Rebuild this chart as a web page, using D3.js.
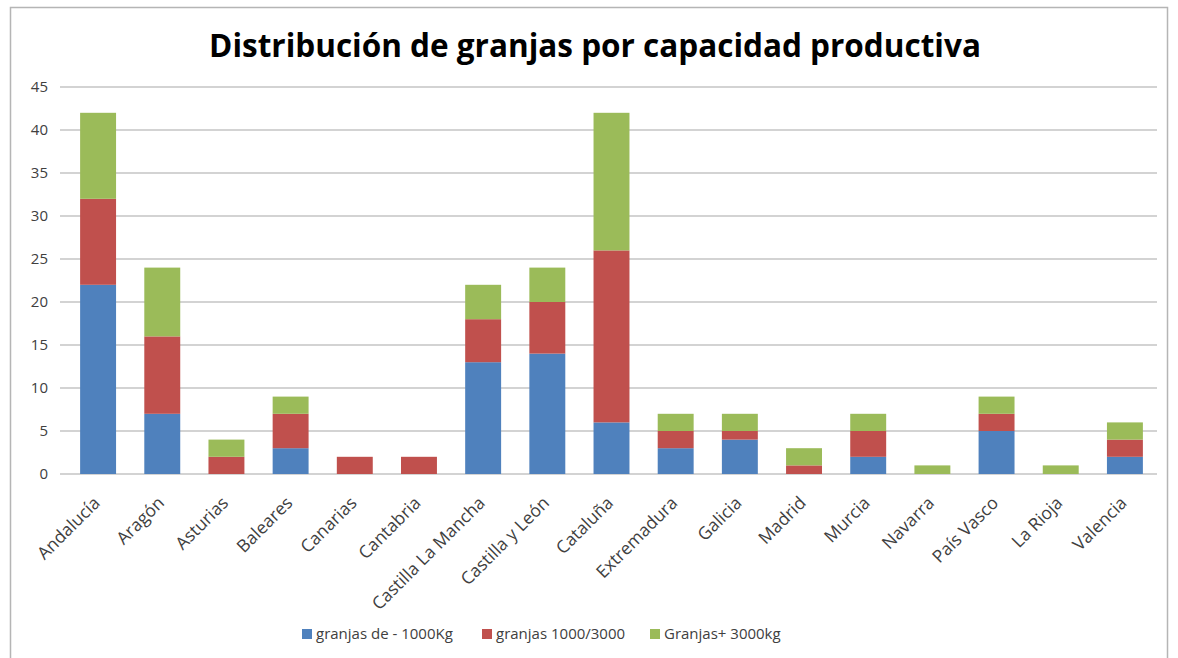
<!DOCTYPE html>
<html><head><meta charset="utf-8">
<script src="https://cdn.jsdelivr.net/npm/d3@7"></script>
<style>
body{margin:0;background:#fff;}
text{font-family:"Open Sans","Liberation Sans",sans-serif;}
</style></head>
<body><svg id="c" width="1178" height="658"></svg>
<script>
const title = "Distribución de granjas por capacidad productiva";
const categories = ["Andalucía","Aragón","Asturias","Baleares","Canarias","Cantabria","Castilla La Mancha","Castilla y León","Cataluña","Extremadura","Galicia","Madrid","Murcia","Navarra","País Vasco","La Rioja","Valencia"];
const seriesNames = ["granjas de - 1000Kg","granjas 1000/3000","Granjas+ 3000kg"];
const small  = [22,7,0,3,0,0,13,14,6,3,4,0,2,0,5,0,2];
const medium = [10,9,2,4,2,2,5,6,20,2,1,1,3,0,2,0,2];
const large  = [10,8,2,2,0,0,4,4,16,2,2,2,2,1,2,1,2];
const yTicks = [0,5,10,15,20,25,30,35,40,45];
const colors = ["#4F81BD","#C0504D","#9BBB59"];

const svg = d3.select("#c");
// outer border
svg.append("rect").attr("x",10.5).attr("y",7.5).attr("width",1157).attr("height",660)
  .attr("fill","#fff").attr("stroke","#b5b5b5").attr("stroke-width",1.5);

const x = d3.scaleBand().domain(categories).range([66,1157]).paddingInner(0.44).paddingOuter(0.22);
const y = d3.scaleLinear().domain([0,45]).range([474,87]);

// gridlines
svg.append("g").selectAll("line").data(yTicks).join("line")
  .attr("x1",60).attr("x2",1157).attr("y1",d=>y(d)).attr("y2",d=>y(d))
  .attr("stroke","#c4c4c4").attr("stroke-width",1.6);

// y axis labels
const yAxis = d3.axisLeft(y).tickValues(yTicks).tickSize(0).tickPadding(0);
const ya = svg.append("g").attr("transform","translate(48,0)").call(yAxis);
ya.select(".domain").remove();
ya.selectAll("text").attr("font-size",15).attr("fill","#404040").attr("x",0);

// stacked data
const rows = categories.map((c,i)=>({cat:c,s0:small[i],s1:medium[i],s2:large[i]}));
const stack = d3.stack().keys(["s0","s1","s2"])(rows);
svg.append("g").selectAll("g").data(stack).join("g").attr("fill",(d,i)=>colors[i])
  .selectAll("rect").data(d=>d).join("rect")
  .attr("x",d=>x(d.data.cat)).attr("width",x.bandwidth())
  .attr("y",d=>y(d[1])).attr("height",d=>y(d[0])-y(d[1]));

// x labels
const xAxis = d3.axisBottom(x).tickSize(0).tickPadding(0);
const xa = svg.append("g").attr("transform","translate(0,474)").call(xAxis);
xa.select(".domain").remove();
xa.selectAll("text").attr("font-size",17.5).attr("fill","#404040")
  .attr("text-anchor","end").attr("dy",0).attr("y",0)
  .attr("transform","translate(3,30) rotate(-45)");

// title
svg.append("text").attr("x",595).attr("y",57).attr("text-anchor","middle")
  .attr("font-size",31.5).attr("font-weight","bold").attr("fill","#000").text(title);

// legend
const legX = [302,482,650];
const lg = svg.append("g").selectAll("g").data(seriesNames).join("g")
  .attr("transform",(d,i)=>`translate(${legX[i]},634)`);
lg.append("rect").attr("x",0).attr("y",-5).attr("width",10).attr("height",10).attr("fill",(d,i)=>colors[i]);
lg.append("text").attr("x",14).attr("y",5).attr("font-size",15).attr("fill","#404040").text(d=>d);
</script></body></html>
